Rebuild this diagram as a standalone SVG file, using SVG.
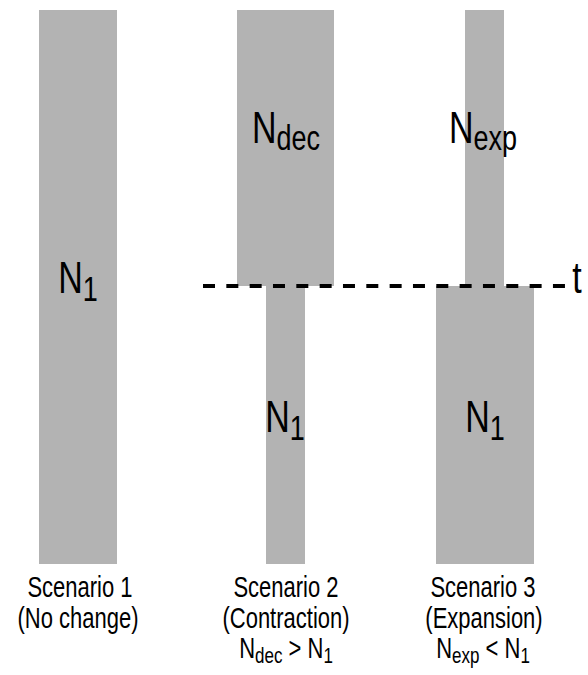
<svg xmlns="http://www.w3.org/2000/svg" width="588" height="675" viewBox="0 0 588 675">
<style>
.bar{fill:#b3b3b3}
text{font-family:"Liberation Sans",Arial,Helvetica,sans-serif;fill:#000;text-anchor:middle}
.big{font-size:34px}
.sub{font-size:27px}
.lab{font-size:22px}
.lsub{font-size:17px}
.dash{stroke:#000;stroke-width:4;stroke-dasharray:12 11.33;fill:none}
</style>
<g id="scenario1">
<rect class="bar" x="39" y="10" width="78" height="554"/>
<g transform="translate(78,293) scale(1,1.3)"><text class="big">N<tspan class="sub" dy="6">1</tspan></text></g>
</g>
<g id="scenario2-top">
<rect class="bar" x="237" y="10" width="97" height="276"/>
<g transform="translate(286,143) scale(1,1.3)"><text class="big">N<tspan class="sub" dy="5">dec</tspan></text></g>
</g>
<g id="scenario2-bottom">
<rect class="bar" x="266" y="286" width="39" height="278"/>
<g transform="translate(285,432) scale(1,1.3)"><text class="big">N<tspan class="sub" dy="6">1</tspan></text></g>
</g>
<g id="scenario3-top">
<rect class="bar" x="465" y="10" width="39" height="276"/>
<g transform="translate(483,143) scale(1,1.3)"><text class="big">N<tspan class="sub" dy="5">exp</tspan></text></g>
</g>
<g id="scenario3-bottom">
<rect class="bar" x="436" y="286" width="98" height="278"/>
<g transform="translate(485,432) scale(1,1.3)"><text class="big">N<tspan class="sub" dy="6">1</tspan></text></g>
</g>
<g id="connectors">
<line class="dash" x1="203" y1="286" x2="565" y2="286"/>
</g>
<g id="t-label">
<g transform="translate(577,293) scale(1,1.3)"><text class="big">t</text></g>
</g>
<g id="label1">
<g transform="translate(80,597) scale(1,1.3)"><text class="lab">Scenario 1</text></g>
<g transform="translate(78,628) scale(1,1.3)"><text class="lab">(No change)</text></g>
</g>
<g id="label2">
<g transform="translate(286,597) scale(1,1.3)"><text class="lab">Scenario 2</text></g>
<g transform="translate(286,628) scale(1,1.3)"><text class="lab">(Contraction)</text></g>
<g transform="translate(286,658) scale(1,1.3)"><text class="lab">N<tspan class="lsub" dy="4">dec</tspan><tspan dy="-4"> &gt; N</tspan><tspan class="lsub" dy="4">1</tspan></text></g>
</g>
<g id="label3">
<g transform="translate(483,597) scale(1,1.3)"><text class="lab">Scenario 3</text></g>
<g transform="translate(484,628) scale(1,1.3)"><text class="lab">(Expansion)</text></g>
<g transform="translate(483,658) scale(1,1.3)"><text class="lab">N<tspan class="lsub" dy="4">exp</tspan><tspan dy="-4"> &lt; N</tspan><tspan class="lsub" dy="4">1</tspan></text></g>
</g>
</svg>
